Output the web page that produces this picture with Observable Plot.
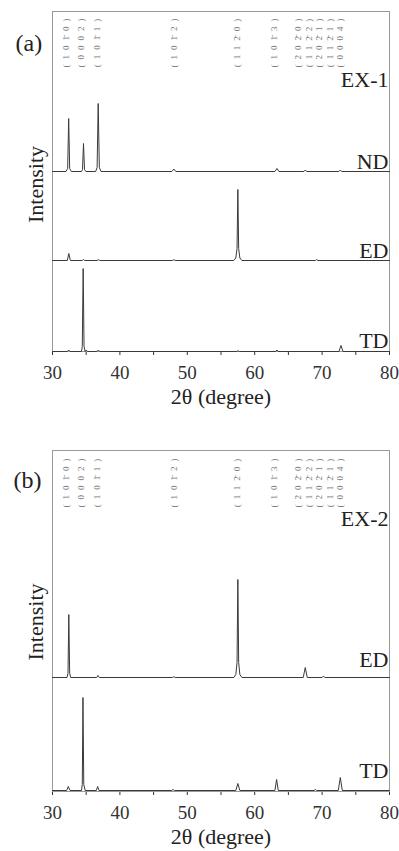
<!DOCTYPE html>
<html><head><meta charset="utf-8">
<script src="https://cdn.jsdelivr.net/npm/d3@7"></script>
<script src="https://cdn.jsdelivr.net/npm/@observablehq/plot@0.6"></script>
<style>
body{margin:0;background:#fff;}
#chart{width:399px;}
#chart svg{display:block;}
#chart svg text{font-family:"Liberation Serif","Times New Roman",serif;}
#chart svg g[font-size="9"] text{letter-spacing:5px;}
</style></head><body><div id="chart"></div>
<script>
// ---- data ----
const xTicks = [30, 35, 40, 45, 50, 55, 60, 65, 70, 75, 80];
const millerPos = [32.0, 34.2, 36.6, 48.0, 57.4, 62.9, 66.5, 68.0, 69.6, 71.2, 72.7];
const millerLabels = ["(101\u03040)", "(0002)", "(101\u03041)", "(101\u03042)", "(112\u03040)", "(101\u03043)",
  "(202\u03040)", "(112\u03042)", "(202\u03041)", "(112\u03041)", "(0004)"];

// EX-1 traces: [2θ, intensity]
const ex1ND = [[30,0],[32.0,0],[32.25,3],[32.4,53],[32.55,3],[32.8,0],[34.3,0],[34.45,2],[34.6,28],[34.75,2],[34.95,0],
  [36.4,0],[36.62,4],[36.78,68],[36.95,4],[37.2,0],[47.7,0],[48.0,2.5],[48.3,0],[63.0,0],[63.3,3],[63.6,0],
  [67.3,0],[67.5,1.5],[67.7,0],[72.5,0],[72.7,1.5],[72.9,0],[80,0]];
const ex1ED = [[30,0],[32.2,0],[32.42,7],[32.65,0],[34.4,0],[34.6,1],[34.8,0],[36.6,0],[36.8,0.8],[37.0,0],
  [47.8,0],[48.0,0.8],[48.2,0],[56.9,0],[57.2,2.5],[57.38,12],[57.5,71],[57.62,12],[57.8,2.5],[58.1,0],
  [69.0,0],[69.2,0.8],[69.4,0],[80,0]];
const ex1TD = [[30,0],[32.2,0],[32.4,1.5],[32.6,0],[34.3,0],[34.42,5],[34.55,83],[34.68,5],[34.85,0],[35.0,1.5],[35.2,0],
  [36.6,0],[36.8,1.5],[37.0,0],[57.3,0],[57.5,0.8],[57.7,0],[63.1,0],[63.3,1.5],[63.5,0],[72.5,0],[72.8,6],[73.1,0],[80,0]];
// EX-2 traces
const ex2ED = [[30,0],[32.15,0],[32.3,4],[32.42,63],[32.55,4],[32.7,0],[36.55,0],[36.75,2],[36.95,0],
  [47.8,0],[48.0,0.8],[48.2,0],[56.9,0],[57.2,3],[57.38,15],[57.5,98],[57.62,15],[57.8,3],[58.1,0],
  [67.2,0],[67.5,10],[67.8,0],[70.0,0],[70.2,1.5],[70.4,0],[80,0]];
const ex2TD = [[30,0],[32.1,0],[32.35,4],[32.6,0],[34.3,0],[34.42,6],[34.52,93],[34.64,6],[34.85,0],
  [36.5,0],[36.7,4],[36.9,0],[47.7,0],[47.9,1],[48.1,0],[57.2,0],[57.5,7],[57.8,0],[63.0,0],[63.25,11],[63.5,0],
  [68.8,0],[69.0,1],[69.2,0],[72.4,0],[72.7,13],[73.0,0],[80,0]];

const namesA = ["ND", "ED", "TD"];
const namesB = ["ED", "TD"];

const FONT = "Liberation Serif";

function panel(cfg) {
  const rows = [];
  cfg.traces.forEach((t, i) => t.forEach(([x, v]) => rows.push({x, y: v + cfg.offsets[i], dir: cfg.names[i]})));
  const labels = cfg.names.map((n, i) => ({n, y: cfg.offsets[i] + cfg.lift[i]}));
  const miller = millerPos.map((x, i) => ({x, t: millerLabels[i]}));
  const svg = Plot.plot({
    width: 399, height: cfg.height,
    marginLeft: 52, marginRight: 10, marginTop: cfg.marginTop, marginBottom: cfg.marginBottom,
    style: {fontFamily: FONT, fontSize: "19px", color: "#333", background: "#fff"},
    x: {domain: [30, 80], ticks: xTicks, tickFormat: d => d % 10 === 0 ? d : "", tickSize: 4, tickPadding: 10, label: null},
    y: {domain: [0, cfg.yMax], axis: null},
    marks: [
      Plot.frame({stroke: "#999", strokeWidth: 1}),
      Plot.line(rows, {x: "x", y: "y", z: "dir", stroke: "#3a3a3a", strokeWidth: 1}),
      Plot.text(labels, {x: () => 80, y: "y", text: "n", textAnchor: "end", lineAnchor: "bottom", dx: -1, fontSize: 22, fill: "#222"}),
      Plot.text([cfg.sample], {frameAnchor: "top-right", text: d => d, textAnchor: "end", lineAnchor: "bottom", dx: -1, dy: 75, fontSize: 22, fill: "#222"}),
      Plot.text(miller, {x: "x", frameAnchor: "top", dy: cfg.millerDy, text: "t", rotate: -90, textAnchor: "middle", lineAnchor: "middle", fontSize: 9, fill: "#777"}),
      Plot.text([cfg.letter], {frameAnchor: "top-left", text: d => d, textAnchor: "start", lineAnchor: "bottom", dx: cfg.letterDx, dy: cfg.letterDy, fontSize: 24, fill: "#222"}),
      Plot.text(["Intensity"], {frameAnchor: "left", text: d => d, rotate: -90, textAnchor: "middle", lineAnchor: "bottom", dx: -10, dy: cfg.intDy, fontSize: 22, fill: "#222"}),
      Plot.text(["2\u03b8 (degree)"], {frameAnchor: "bottom", text: d => d, textAnchor: "middle", lineAnchor: "bottom", dy: 52, fontSize: 22, fill: "#222"})
    ]
  });
  return svg;
}

const chart = document.getElementById("chart");
chart.append(panel({traces: [ex1ND, ex1ED, ex1TD], names: namesA, offsets: [180, 91, 0], lift: [3, 3, 4],
  sample: "EX-1", letter: "(a)", height: 420, marginTop: 11, marginBottom: 69, yMax: 340,
  millerDy: 29, letterDx: -37, letterDy: 39, intDy: 3}));
chart.append(panel({traces: [ex2ED, ex2TD], names: namesB, offsets: [114, 1], lift: [11, 13],
  sample: "EX-2", letter: "(b)", height: 431, marginTop: 30, marginBottom: 60, yMax: 341,
  millerDy: 30, letterDx: -39, letterDy: 37, intDy: 1}));
</script>
</body></html>
